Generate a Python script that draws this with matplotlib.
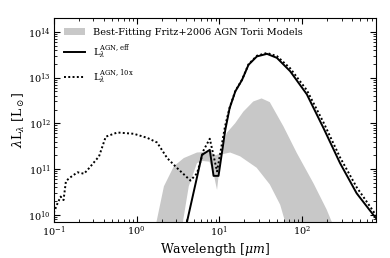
import matplotlib
matplotlib.use("Agg")
import matplotlib.pyplot as plt
from matplotlib.patches import Patch
from matplotlib.lines import Line2D

plt.rcParams['font.family'] = ['DejaVu Serif']
plt.rcParams['mathtext.fontset'] = 'dejavuserif'

# Best-fitting Fritz+2006 torus model envelope (upper / lower boundaries)
band_upper_wl = [1.70, 1.74, 2.14, 2.82, 3.72, 5.37, 7.64, 9.1, 10.3, 12.3, 15.5, 19.5, 25.7, 32.4, 40.7, 59.6, 86.3, 137, 198, 228, 240]
band_upper_L = [5e9, 7e9, 4.2e10, 1.15e11, 1.74e11, 2.3e11, 2.4e11, 2.0e11, 2.24e11, 6.2e11, 1.0e12, 1.8e12, 3.0e12, 3.5e12, 2.9e12, 8.5e11, 2.24e11, 4.9e10, 1.3e10, 7e9, 5e9]
band_lower_wl = [3.55, 3.63, 4.27, 5.37, 6.3, 7.6, 8.5, 9.38, 10.0, 10.7, 13.5, 17.8, 28.2, 40.7, 54.3, 62.4, 65]
band_lower_L = [5e9, 7e9, 4.2e10, 1.35e11, 1.5e11, 1.45e11, 8e10, 3.5e10, 1.0e11, 2.1e11, 2.3e11, 1.9e11, 1.07e11, 4.6e10, 1.66e10, 7e9, 5e9]

# L_lambda^{AGN,eff}
eff_wl = [3.9, 4.07, 6.17, 7.66, 8.51, 9.77, 11.8, 13.3, 15.6, 18.8, 22.5, 28.4, 37.6, 49.5, 71.6, 114, 181, 287, 456, 724, 780]
eff_L = [5e9, 7.1e9, 2.04e11, 2.63e11, 7.1e10, 7.1e10, 7.2e11, 2.14e12, 5.0e12, 8.9e12, 1.9e13, 2.9e13, 3.3e13, 2.7e13, 1.38e13, 4.3e12, 7.9e11, 1.35e11, 2.95e10, 1.0e10, 8.5e9]

# L_lambda^{AGN,10x}
x10_wl = [0.100, 0.109, 0.121, 0.131, 0.140, 0.153, 0.193, 0.232, 0.267, 0.352, 0.424, 0.585, 0.927, 1.35, 1.77, 2.34, 3.09, 4.48, 5.38, 6.47, 7.66, 9.38, 11.7, 13.3, 15.6, 18.8, 22.5, 28.4, 37.6, 49.5, 71.6, 114, 181, 287, 456, 724, 780]
x10_L = [1.1e10, 1.66e10, 2.5e10, 2.1e10, 5.4e10, 6.3e10, 8.5e10, 7.9e10, 1.05e11, 1.9e11, 5.1e11, 6.3e11, 5.9e11, 4.8e11, 3.8e11, 1.74e11, 1.05e11, 5.6e10, 8.1e10, 2.6e11, 4.6e11, 8.9e10, 8.5e11, 2.2e12, 5.1e12, 9.0e12, 1.95e13, 3.0e13, 3.45e13, 2.95e13, 1.6e13, 5.3e12, 1.05e12, 1.8e11, 4.0e10, 1.2e10, 9.5e9]

fig = plt.figure(figsize=(3.9, 2.58), dpi=100)
ax = fig.add_axes([0.138, 0.140, 0.826, 0.790])

poly_x = band_upper_wl + band_lower_wl[::-1]
poly_y = band_upper_L + band_lower_L[::-1]
ax.fill(poly_x, poly_y, color='#c8c8c8', lw=0, zorder=1)
ax.plot(eff_wl, eff_L, color='black', lw=1.4, zorder=3)
ax.plot(x10_wl, x10_L, color='black', lw=1.4, ls=(0, (1, 1.2)), zorder=3)

ax.set_xscale('log')
ax.set_yscale('log')
ax.set_xlim(0.1, 780)
ax.set_ylim(7e9, 2e14)
ax.tick_params(which='both', direction='in', top=True, right=True, labelsize=7, pad=2)
ax.tick_params(which='major', length=4)
ax.tick_params(which='minor', length=2)
ax.set_xlabel(r'Wavelength [$\mu m$]', fontsize=9, labelpad=1)
ax.set_ylabel(r'$\lambda$L$_\lambda$ [L$_\odot$]', fontsize=9, labelpad=1)

handles = [Patch(facecolor='#c8c8c8', edgecolor='none'),
           Line2D([], [], color='black', lw=1.4),
           Line2D([], [], color='black', lw=1.4, ls=(0, (1, 1.2)))]
labels = ['Best-Fitting Fritz+2006 AGN Torii Models',
          r'L$_\lambda^{\mathrm{AGN,eff}}$',
          r'L$_\lambda^{\mathrm{AGN,10x}}$']
ax.legend(handles, labels, loc='upper left', frameon=False, fontsize=7,
          handlelength=2.2, borderaxespad=0.6, labelspacing=0.6)

fig.savefig('out.png', dpi=100)
